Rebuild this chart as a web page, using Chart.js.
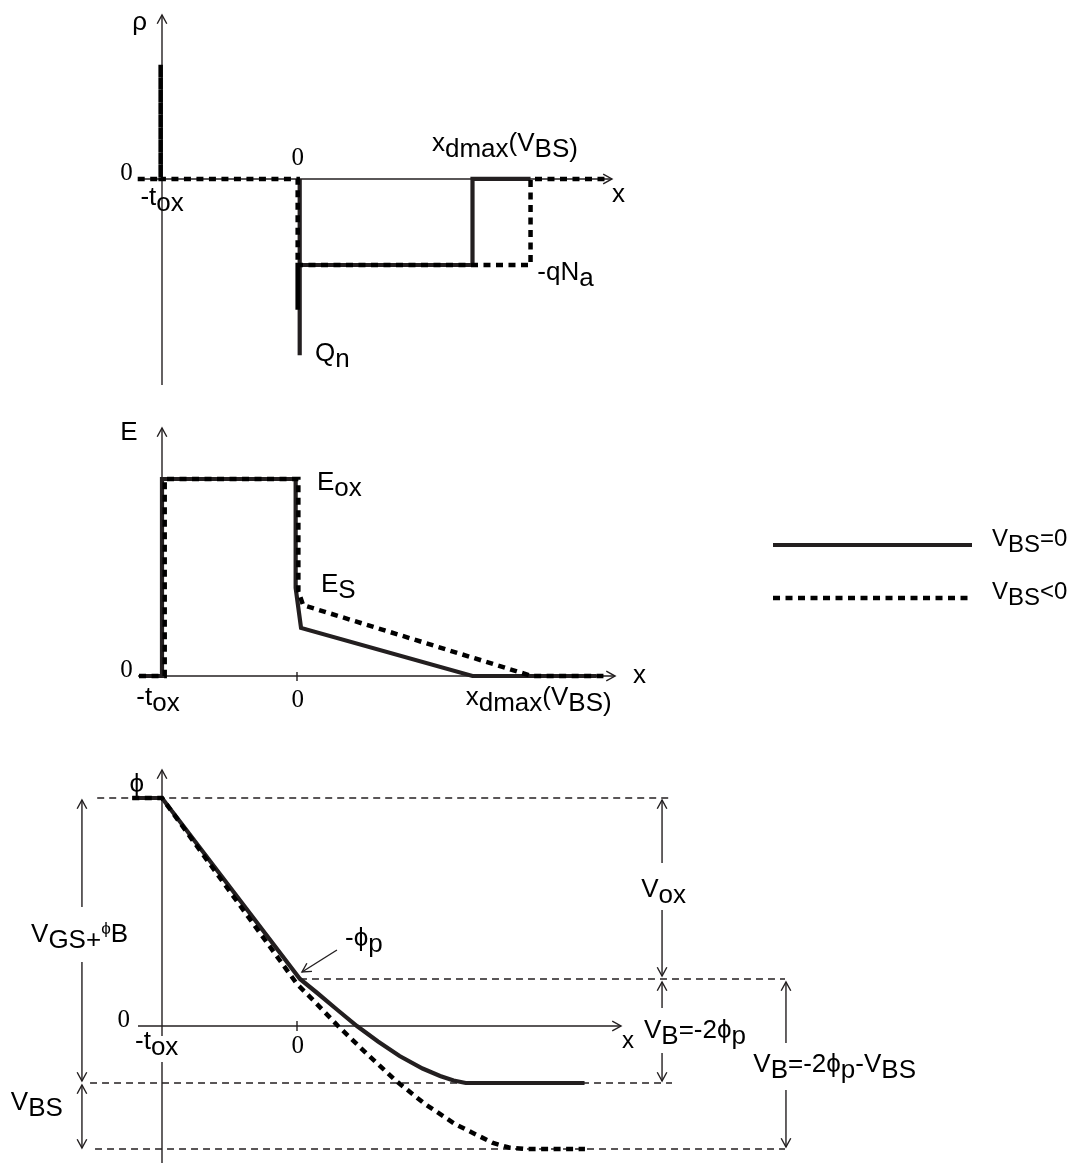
<!DOCTYPE html>
<html>
<head>
<meta charset="utf-8">
<script src="https://cdn.jsdelivr.net/npm/chart.js@4.4.0/dist/chart.umd.min.js"></script>
<style>
  body { margin: 0; background: #fff; }
  #wrap { position: relative; width: 1080px; height: 1163px; }
  canvas { position: absolute; left: 0; }
</style>
</head>
<body>
<div id="wrap">
  <canvas id="rho" width="1080" height="400" style="top:0px"></canvas>
  <canvas id="efield" width="1080" height="330" style="top:400px"></canvas>
  <canvas id="phi" width="1080" height="433" style="top:730px"></canvas>
</div>
<script>
// x in units of t_ox (-t_ox = -1, interface = 0)
// charge density rho (units of qNa)
var rhoSolidX  = [0.02, 0.02, 0.02, 1.30, 1.30, 1.73];
var rhoSolidY  = [0, -2.05, -1, -1, 0, 0];
var rhoDashX   = [-1.18, -1.01, -1.01, -1.01, 0.005, 0.005, 0.005, 1.73, 1.73, 2.30];
var rhoDashY   = [0, 0, 1.33, 0, 0, -1.52, -1, -1, 0, 0];

// electric field (units of Eox)
var eSolidX = [-1.17, -1, -1, -0.01, -0.01, 0.03, 1.30, 2.22];
var eSolidY = [0, 0, 1, 1, 0.447, 0.244, 0, 0];
var eDashX  = [-1.17, -0.98, -0.98, 0.01, 0.01, 0.045, 1.74, 2.27];
var eDashY  = [0, 0, 1, 1, 0.43, 0.36, 0, 0];

// potential phi
var phiSolidX = [-1.22, -1, 0.022, 0.15, 0.3, 0.444, 0.6, 0.76, 0.93, 1.06, 1.16, 1.25, 2.13];
var phiSolidY = [4.56, 4.56, 0.94, 0.66, 0.32, 0, -0.31, -0.60, -0.85, -1.0, -1.09, -1.14, -1.14];
var phiDashX  = [-1.22, -1, 0, 0.119, 0.304, 0.511, 0.726, 0.948, 1.170, 1.452, 1.57, 1.689, 2.133];
var phiDashY  = [4.56, 4.56, 0.84, 0.52, 0, -0.54, -1.08, -1.56, -1.96, -2.34, -2.43, -2.46, -2.46];

var seriesNames = ['VBS=0', 'VBS<0'];

var X_MIN = -2.2, X_MAX = 5.8;
var SANS = '"Liberation Sans", Arial, sans-serif';
var SERIF = '"Liberation Serif", "Times New Roman", serif';
var INK = '#231f20';

function pts(xs, ys) {
  return xs.map(function(x, i){ return {x: x, y: ys[i]}; });
}
function solidSet(name, xs, ys) {
  return { label: name, data: pts(xs, ys), showLine: true, borderColor: INK, borderWidth: 4.2,
           pointRadius: 0, tension: 0, order: 1, fill: false };
}
function dashSet(name, xs, ys) {
  return { label: name, data: pts(xs, ys), showLine: true, borderColor: '#000', borderWidth: 4.5,
           borderDash: [7, 5.5], pointRadius: 0, tension: 0, order: 0, fill: false };
}

function rich(ctx, x, y, parts, size, face) {
  var cx = x;
  parts.forEach(function(p){
    var fs = size, dy = 0;
    if (p[1] === 's') dy = size * 0.24;
    if (p[1] === 'u') { fs = size * 0.66; dy = -size * 0.3; }
    ctx.font = fs + 'px ' + (face || SANS);
    ctx.fillText(p[0], cx, y + dy);
    cx += ctx.measureText(p[0]).width;
  });
}

function head(ctx, x, y, dx, dy) {
  var len = 10, a = 0.5, ang = Math.atan2(dy, dx);
  ctx.beginPath();
  ctx.moveTo(x - len * Math.cos(ang - a), y - len * Math.sin(ang - a));
  ctx.lineTo(x, y);
  ctx.lineTo(x - len * Math.cos(ang + a), y - len * Math.sin(ang + a));
  ctx.stroke();
}

var decor = {
  id: 'decor',
  beforeDatasetsDraw: function(chart, args, spec) {
    var ctx = chart.ctx, sx = chart.scales.x, sy = chart.scales.y;
    ctx.save();
    ctx.strokeStyle = INK;
    (spec.lines || []).forEach(function(l){
      var ax = sx.getPixelForValue(l.p[0][0]), ay = sy.getPixelForValue(l.p[0][1]);
      var bx = sx.getPixelForValue(l.p[1][0]), by = sy.getPixelForValue(l.p[1][1]);
      ctx.lineWidth = l.w || 1.4;
      ctx.setLineDash(l.dash || []);
      ctx.beginPath(); ctx.moveTo(ax, ay); ctx.lineTo(bx, by); ctx.stroke();
      ctx.setLineDash([]);
      if (l.h1) head(ctx, bx, by, bx - ax, by - ay);
      if (l.h0) head(ctx, ax, ay, ax - bx, ay - by);
    });
    ctx.restore();
  },
  afterDatasetsDraw: function(chart, args, spec) {
    var ctx = chart.ctx, sx = chart.scales.x, sy = chart.scales.y;
    ctx.save();
    ctx.fillStyle = '#000';
    ctx.textBaseline = 'alphabetic';
    (spec.texts || []).forEach(function(t){
      rich(ctx, sx.getPixelForValue(t.x), sy.getPixelForValue(t.y), t.parts, t.size || 26, t.face);
    });
    if (spec.legend) {
      var L = spec.legend;
      chart.data.datasets.forEach(function(ds, i){
        var y = sy.getPixelForValue(L.rows[i]);
        ctx.strokeStyle = ds.borderColor;
        ctx.lineWidth = ds.borderWidth;
        ctx.setLineDash(ds.borderDash || []);
        ctx.beginPath();
        ctx.moveTo(sx.getPixelForValue(L.x0), y);
        ctx.lineTo(sx.getPixelForValue(L.x1), y);
        ctx.stroke();
        ctx.setLineDash([]);
        var m = ds.label.match(/^V(BS)(.*)$/);
        rich(ctx, sx.getPixelForValue(L.tx), y + 1, [['V', ''], [m[1], 's'], [m[2], '']], 24);
      });
    }
    ctx.restore();
  }
};

function makeChart(id, datasets, ymin, ymax, spec) {
  return new Chart(id, {
    type: 'scatter',
    data: { datasets: datasets },
    options: {
      responsive: false,
      animation: false,
      events: [],
      layout: { padding: 0 },
      scales: {
        x: { type: 'linear', min: X_MIN, max: X_MAX, display: false },
        y: { type: 'linear', min: ymin, max: ymax, display: false }
      },
      plugins: { legend: { display: false }, tooltip: { enabled: false }, decor: spec }
    },
    plugins: [decor]
  });
}

var zero = function(x, y){ return { x: x, y: y, parts: [['0', '']], size: 25, face: SERIF }; };
var tox = function(x, y){ return { x: x, y: y, parts: [['-t', ''], ['ox', 's']] }; };
var xdmax = [['x', ''], ['dmax', 's'], ['(V', ''], ['BS)', 's']];

makeChart('rho',
  [solidSet(seriesNames[0], rhoSolidX, rhoSolidY), dashSet(seriesNames[1], rhoDashX, rhoDashY)],
  -2.570, 2.081,
  {
    lines: [
      { p: [[-1, -2.395], [-1, 1.907]], h1: true },
      { p: [[-1.178, 0], [2.333, 0]], h1: true }
    ],
    texts: [
      { x: -1.22, y: 1.733, parts: [['ρ', '']] },
      zero(-1.31, -0.01), zero(-0.04, 0.163),
      tox(-1.16, -0.302),
      { x: 1.0, y: 0.326, parts: xdmax },
      { x: 2.333, y: -0.267, parts: [['x', '']] },
      { x: 1.78, y: -1.174, parts: [['-qN', ''], ['a', 's']] },
      { x: 0.133, y: -2.116, parts: [['Q', ''], ['n', 's']] }
    ]
  });

makeChart('efield',
  [solidSet(seriesNames[0], eSolidX, eSolidY), dashSet(seriesNames[1], eDashX, eDashY)],
  -0.274, 1.401,
  {
    lines: [
      { p: [[-1, 0], [-1, 1.259]], h1: true },
      { p: [[-1.178, 0], [2.356, 0]], h1: true },
      { p: [[0, 0.02], [0, -0.025]] }
    ],
    texts: [
      { x: -1.31, y: 1.198, parts: [['E', '']] },
      zero(-1.31, -0.005), zero(-0.04, -0.157),
      tox(-1.19, -0.147),
      { x: 0.148, y: 0.944, parts: [['E', ''], ['ox', 's']] },
      { x: 0.178, y: 0.426, parts: [['E', ''], ['S', 's']] },
      { x: 2.489, y: -0.036, parts: [['x', '']] },
      { x: 1.25, y: -0.147, parts: xdmax }
    ],
    legend: { x0: 3.526, x1: 5.0, tx: 5.148, rows: [0.665, 0.396] }
  });

var guide = [7, 5];
makeChart('phi',
  [solidSet(seriesNames[0], phiSolidX, phiSolidY), dashSet(seriesNames[1], phiDashX, phiDashY)],
  -2.74, 5.92,
  {
    lines: [
      { p: [[-1, -0.2], [-1, 5.12]], h1: true },
      { p: [[-1, -0.72], [-1, -2.74]] },
      { p: [[-1.178, 0], [2.40, 0]], h1: true },
      { p: [[0, 0.1], [0, -0.1]] },
      { p: [[-1.48, 4.56], [2.763, 4.56]], dash: guide, w: 1.3 },
      { p: [[0.022, 0.94], [3.615, 0.94]], dash: guide, w: 1.3 },
      { p: [[-1.533, -1.14], [2.778, -1.14]], dash: guide, w: 1.3 },
      { p: [[-1.496, -2.46], [3.615, -2.46]], dash: guide, w: 1.3 },
      { p: [[-1.593, 2.38], [-1.593, 4.52]], h1: true },
      { p: [[-1.593, 1.28], [-1.593, -1.10]], h1: true },
      { p: [[-1.593, -1.18], [-1.593, -2.44]], h0: true, h1: true },
      { p: [[2.704, 3.26], [2.704, 4.52]], h1: true },
      { p: [[2.704, 2.32], [2.704, 1.0]], h1: true },
      { p: [[2.704, 0.36], [2.704, 0.88]], h1: true },
      { p: [[2.704, -0.54], [2.704, -1.10]], h1: true },
      { p: [[3.622, -0.34], [3.622, 0.88]], h1: true },
      { p: [[3.622, -1.28], [3.622, -2.42]], h1: true },
      { p: [[0.296, 1.52], [0.037, 1.08]], h1: true }
    ],
    texts: [
      { x: -1.24, y: 4.68, parts: [['ϕ', '']] },
      zero(-1.33, -0.02), zero(-0.04, -0.54),
      tox(-1.2, -0.46),
      { x: 2.407, y: -0.44, parts: [['x', '']], size: 24 },
      { x: 0.356, y: 1.6, parts: [['-ϕ', ''], ['p', 's']] },
      { x: 2.55, y: 2.58, parts: [['V', ''], ['ox', 's']] },
      { x: 2.57, y: -0.24, parts: [['V', ''], ['B', 's'], ['=-2ϕ', ''], ['p', 's']] },
      { x: 3.38, y: -0.92, parts: [['V', ''], ['B', 's'], ['=-2ϕ', ''], ['p', 's'], ['-V', ''], ['BS', 's']] },
      { x: -1.97, y: 1.68, parts: [['V', ''], ['GS+', 's'], ['ϕ', 'u'], ['B', '']] },
      { x: -2.12, y: -1.68, parts: [['V', ''], ['BS', 's']] }
    ]
  });
</script>
</body>
</html>
